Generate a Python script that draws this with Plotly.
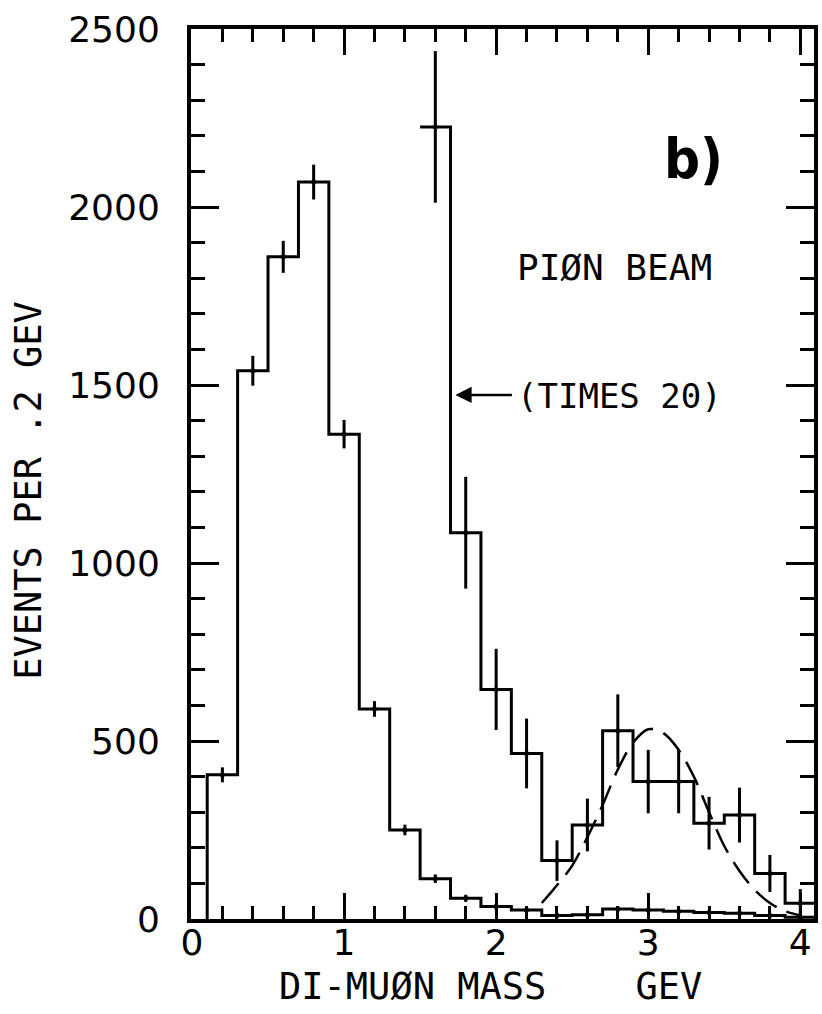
import plotly.graph_objects as go

# ---- data ----
bin_width = 0.2
# pion beam, unscaled, bin centres 0.2 ... 4.0 GeV
centers = [0.2, 0.4, 0.6, 0.8, 1.0, 1.2, 1.4, 1.6, 1.8, 2.0,
           2.2, 2.4, 2.6, 2.8, 3.0, 3.2, 3.4, 3.6, 3.8, 4.0]
counts = [405, 1540, 1860, 2070, 1362, 590, 250, 113, 58, 35,
          25, 10, 12, 28, 25, 22, 18, 16, 10, 5]
errors = [21, 42, 45, 49, 40, 22, 15, 12, 10, 9,
          8, 6, 6, 7, 6, 6, 5, 5, 4, 3]

# high-mass part, times 20
centers_x20 = [1.6, 1.8, 2.0, 2.2, 2.4, 2.6, 2.8, 3.0, 3.2, 3.4, 3.6, 3.8, 4.0]
counts_x20 = [2225, 1085, 645, 465, 164, 264, 529, 386, 386, 269, 292, 128, 44]
errors_x20 = [213, 157, 114, 98, 57, 74, 102, 89, 89, 74, 77, 52, 40]

# dashed J/psi curve (read points)
curve_x = [2.30, 2.40, 2.50, 2.60, 2.70, 2.80, 2.90, 3.00, 3.10, 3.20,
           3.30, 3.40, 3.50, 3.60, 3.70, 3.80, 3.90, 4.00]
curve_y = [45, 95, 150, 230, 320, 420, 495, 533, 522, 475,
           400, 300, 205, 135, 82, 45, 22, 10]

x_ticks = [0, 1, 2, 3, 4]
y_ticks = [0, 500, 1000, 1500, 2000, 2500]

FONT = "DejaVu Sans Mono"
NUMFONT = "DejaVu Sans"


def step_xy(cs, vs, from_zero):
    left = [c - bin_width / 2 for c in cs]
    right = cs[-1] + bin_width / 2
    if from_zero:
        xs = [left[0]] + left + [right]
        ys = [0] + list(vs) + [vs[-1]]
    else:
        xs = left + [right]
        ys = list(vs) + [vs[-1]]
    return xs, ys


fig = go.Figure()

hx, hy = step_xy(centers, counts, True)
fig.add_trace(go.Scatter(x=hx, y=hy, mode="lines", line_shape="hv",
                         line=dict(color="black", width=3), hoverinfo="skip"))
fig.add_trace(go.Scatter(x=centers, y=counts, mode="markers",
                         marker=dict(color="black", size=5),
                         error_y=dict(type="data", array=errors, color="black",
                                      thickness=3, width=0)))

hx2, hy2 = step_xy(centers_x20, counts_x20, False)
fig.add_trace(go.Scatter(x=hx2, y=hy2, mode="lines", line_shape="hv",
                         line=dict(color="black", width=3), hoverinfo="skip"))
fig.add_trace(go.Scatter(x=centers_x20, y=counts_x20, mode="markers",
                         marker=dict(color="black", size=5),
                         error_y=dict(type="data", array=errors_x20, color="black",
                                      thickness=3, width=0)))

fig.add_trace(go.Scatter(x=curve_x, y=curve_y, mode="lines", line_shape="spline",
                         line=dict(color="black", width=2.5, dash="26px,11px")))

axis_common = dict(showline=True, linecolor="black", linewidth=4, mirror="ticks",
                   ticks="inside", tickcolor="black", tickwidth=3,
                   showgrid=False, zeroline=False)

fig.update_xaxes(range=[-0.0065, 4.09], tickvals=x_ticks, ticklen=26,
                 tickfont=dict(family=NUMFONT, size=36, color="black"),
                 minor=dict(dtick=0.2, ticklen=13, tickwidth=3, tickcolor="black",
                            ticks="inside", showgrid=False),
                 ticklabelstandoff=-11,
                 **axis_common)
fig.update_yaxes(range=[0, 2500], tickvals=y_ticks, ticklen=28,
                 tickfont=dict(family=NUMFONT, size=36, color="black"),
                 minor=dict(dtick=100, ticklen=14, tickwidth=3, tickcolor="black",
                            ticks="inside", showgrid=False),
                 ticklabelstandoff=20,
                 **axis_common)

annotations = [
    dict(x=0.48, y=-0.076, xref="paper", yref="paper", text="DI-MUØN MASS    GEV",
         showarrow=False, font=dict(family=FONT, size=37, color="black"),
         xanchor="center", yanchor="middle"),
    dict(x=-0.262, y=0.482, xref="paper", yref="paper", text="EVENTS PER .2 GEV",
         textangle=-90, showarrow=False,
         font=dict(family=FONT, size=37, color="black"),
         xanchor="center", yanchor="middle"),
    dict(x=3.30, y=2135, xref="x", yref="y", text="<b>b)</b>", showarrow=False,
         font=dict(family="DejaVu Sans Condensed, DejaVu Sans", size=56, color="black"),
         xanchor="center", yanchor="middle"),
    dict(x=2.78, y=1829, xref="x", yref="y", text="PIØN BEAM", showarrow=False,
         font=dict(family=FONT, size=36, color="black"),
         xanchor="center", yanchor="middle"),
    dict(x=2.124, y=1469, xref="x", yref="y", text="(TIMES 20)", showarrow=False,
         font=dict(family=FONT, size=34, color="black"),
         xanchor="left", yanchor="middle"),
    dict(x=1.732, y=1472, xref="x", yref="y", text="", showarrow=True,
         ax=58, ay=0, arrowhead=2, arrowsize=1.3, arrowwidth=2.5,
         arrowcolor="black"),
]

fig.update_layout(width=822, height=1014,
                  margin=dict(l=191, r=4, t=29, b=95),
                  paper_bgcolor="white", plot_bgcolor="white",
                  showlegend=False, annotations=annotations)

fig.write_html("out.html", config={"displayModeBar": False},
               post_script="document.body.style.margin='0px';document.body.style.overflow='hidden';")
